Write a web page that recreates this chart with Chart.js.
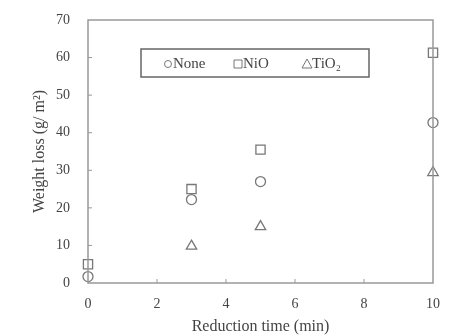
<!DOCTYPE html>
<html><head><meta charset="utf-8">
<script src="https://cdn.jsdelivr.net/npm/chart.js@4/dist/chart.umd.min.js"></script>
<style>html,body{margin:0;padding:0;background:#fff}#wrap{width:467px;height:336px}</style>
</head><body><div id="wrap"><canvas id="c" width="467" height="336"></canvas></div>
<script>
const seriesNames = ["None", "NiO", "TiO₂"];
const noneX = [0, 3, 5, 10];
const noneY = [1.7, 22.2, 27, 42.7];
const nioX = [0, 3, 5, 10];
const nioY = [5, 25, 35.5, 61.3];
const tio2X = [3, 5, 10];
const tio2Y = [9.8, 15, 29.4];
const xTicks = [0, 2, 4, 6, 8, 10];
const yTicks = [0, 10, 20, 30, 40, 50, 60, 70];

const FONT = "'Liberation Serif', 'Times New Roman', serif";
const AX = '#999';
const TXT = '#444';
const MK = '#777';

function pts(xs, ys){ return xs.map((x,i)=>({x:x,y:ys[i]})); }

const frame = {
  id:'frame',
  afterDatasetsDraw(chart){
    const {ctx, chartArea:a, scales:{x,y}} = chart;
    ctx.save();
    ctx.strokeStyle = AX; ctx.lineWidth = 1.5;
    ctx.strokeRect(a.left, a.top, a.right-a.left, a.bottom-a.top);
    ctx.lineWidth = 1;
    yTicks.forEach(v=>{ if(v>0&&v<70){const p=y.getPixelForValue(v); ctx.beginPath(); ctx.moveTo(a.left,p); ctx.lineTo(a.left+4,p); ctx.stroke();}});
    xTicks.forEach(v=>{ if(v>0&&v<10){const p=x.getPixelForValue(v); ctx.beginPath(); ctx.moveTo(p,a.bottom); ctx.lineTo(p,a.bottom-4); ctx.stroke();}});
    // legend box
    const lx=141, ly=49, lw=228, lh=28;
    ctx.strokeStyle='#666'; ctx.lineWidth=1.5;
    ctx.strokeRect(lx,ly,lw,lh);
    ctx.font = "15px "+FONT; ctx.fillStyle=TXT; ctx.textBaseline='middle';
    const cy = ly+lh/2+1;
    const items=[{s:'circle',x:168},{s:'rect',x:238},{s:'triangle',x:307}];
    items.forEach((it,i)=>{
      ctx.strokeStyle=MK; ctx.lineWidth=1;
      ctx.beginPath();
      if(it.s==='circle'){ctx.arc(it.x,cy,3.5,0,Math.PI*2);}
      else if(it.s==='rect'){ctx.rect(it.x-4,cy-4,8,8);}
      else {ctx.moveTo(it.x,cy-5);ctx.lineTo(it.x+5,cy+4);ctx.lineTo(it.x-5,cy+4);ctx.closePath();}
      ctx.stroke();
      ctx.fillText(seriesNames[i], it.x+5, cy);
    });
    ctx.restore();
  }
};

new Chart(document.getElementById('c'), {
  type:'scatter',
  data:{datasets:[
    {label:seriesNames[0], data:pts(noneX,noneY), pointStyle:'circle', radius:5, borderColor:MK, backgroundColor:'#fff', borderWidth:1.3},
    {label:seriesNames[1], data:pts(nioX,nioY), pointStyle:'rect', radius:6.5, borderColor:MK, backgroundColor:'#fff', borderWidth:1.3},
    {label:seriesNames[2], data:pts(tio2X,tio2Y), pointStyle:'triangle', radius:6, borderColor:MK, backgroundColor:'#fff', borderWidth:1.3}
  ]},
  options:{
    responsive:false, animation:false, clip:false,
    layout:{padding:{top:20,right:34,left:30,bottom:0}},
    plugins:{legend:{display:false}, tooltip:{enabled:false}},
    scales:{
      x:{type:'linear', min:0, max:10, border:{display:false},
        grid:{display:false},
        afterBuildTicks(s){ s.ticks = xTicks.map(v=>({value:v})); },
        afterFit(s){ s.height = 53; },
        ticks:{color:TXT, font:{family:FONT,size:14}, padding:5},
        title:{display:true, text:'Reduction time (min)', color:TXT, font:{family:FONT,size:16}, padding:{top:0,bottom:0}}
      },
      y:{type:'linear', min:0, max:70, border:{display:false},
        grid:{display:false},
        afterBuildTicks(s){ s.ticks = yTicks.map(v=>({value:v})); },
        afterFit(s){ s.width = 58; },
        ticks:{color:TXT, font:{family:FONT,size:14}, padding:10},
        title:{display:true, text:'Weight loss (g/ m²)', color:TXT, font:{family:FONT,size:16}, padding:{top:0,bottom:0}}
      }
    }
  },
  plugins:[frame]
});
</script></body></html>
